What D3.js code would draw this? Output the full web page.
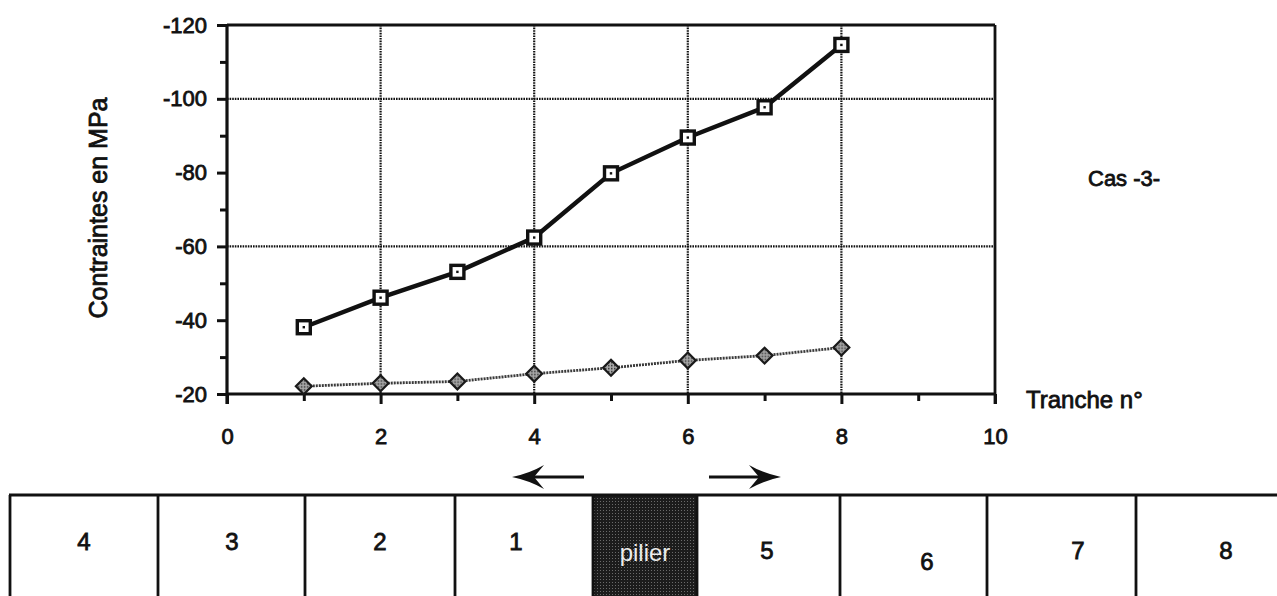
<!DOCTYPE html>
<html>
<head>
<meta charset="utf-8">
<script src="https://cdn.jsdelivr.net/npm/d3@7"></script>
<style>
  html, body { margin: 0; padding: 0; background: #fff; }
  svg { display: block; }
  text { font-family: "Liberation Sans", Arial, Helvetica, sans-serif; }
</style>
</head>
<body>
<svg id="chart" width="1277" height="596"></svg>
<script>
// Slice numbers (x) and stresses in MPa for the two curves
const tranches = [1, 2, 3, 4, 5, 6, 7, 8];
const contrainteMax = [-38.1, -46.1, -53.1, -62.4, -79.8, -89.5, -97.7, -114.6];
const contrainteMin = [-22.1, -22.9, -23.4, -25.5, -27.1, -29.1, -30.4, -32.6];

// Axis ticks
const xTicks = [0, 2, 4, 6, 8, 10];
const xMinorTicks = [1, 3, 5, 7, 9];
const yTicks = [-120, -100, -80, -60, -40, -20];
const yMinorTicks = [-110, -90, -70, -50, -30];
const xGrid = [2, 4, 6, 8];
const yGrid = [-100, -60];

// Slice strip under the chart: labels from left to right
const cellLabels = ["4", "3", "2", "1", "pilier", "5", "6", "7", "8"];
const cellEdges = [10, 158, 305, 455, 593, 697, 840, 987, 1136, 1277];
const cellLabelX = [84, 232, 380, 516, 645, 767, 927, 1078, 1226];
const cellLabelY = [542, 542, 542, 542, 553, 551, 562, 551, 551];

const svg = d3.select("#chart");

const x = d3.scaleLinear().domain([0, 10]).range([227, 995]);
const y = d3.scaleLinear().domain([-20, -120]).range([394, 25]);

const ink = "#111";

// Grid lines (dotted)
const grid = svg.append("g").attr("stroke", ink).attr("stroke-width", 2.2)
  .attr("stroke-dasharray", "1.6,1");
grid.selectAll(".gx").data(xGrid).join("line")
  .attr("x1", d => x(d)).attr("x2", d => x(d)).attr("y1", y(-120)).attr("y2", y(-20));
grid.selectAll(".gy").data(yGrid).join("line")
  .attr("x1", x(0)).attr("x2", x(10)).attr("y1", d => y(d)).attr("y2", d => y(d));

// Frame: top and right
svg.append("line").attr("x1", x(0)).attr("x2", x(10)).attr("y1", y(-120)).attr("y2", y(-120))
  .attr("stroke", ink).attr("stroke-width", 2.8);
svg.append("line").attr("x1", x(10)).attr("x2", x(10)).attr("y1", y(-120)).attr("y2", y(-20) + 10)
  .attr("stroke", ink).attr("stroke-width", 2.8);

// Axes
const axisFont = 22;
const fmt = d => String(d);
const yAxis = svg.append("g").attr("transform", `translate(${x(0)},0)`)
  .call(d3.axisLeft(y).tickValues(yTicks).tickSize(10).tickPadding(10).tickFormat(fmt));
const yMinor = svg.append("g").attr("transform", `translate(${x(0)},0)`)
  .call(d3.axisLeft(y).tickValues(yMinorTicks).tickSize(7).tickFormat(""));
const xAxis = svg.append("g").attr("transform", `translate(0,${y(-20)})`)
  .call(d3.axisBottom(x).tickValues(xTicks).tickSize(10).tickPadding(24).tickFormat(fmt));
const xMinor = svg.append("g").attr("transform", `translate(0,${y(-20)})`)
  .call(d3.axisBottom(x).tickValues(xMinorTicks).tickSize(7).tickFormat(""));

const heavy = sel => sel.style("fill", ink).style("stroke", ink).style("stroke-width", 0.8);

[yAxis, yMinor, xAxis, xMinor].forEach(g => {
  g.select(".domain").attr("stroke", ink).attr("stroke-width", 3.2);
  g.selectAll(".tick line").attr("stroke", ink).attr("stroke-width", 3);
  g.selectAll(".tick text").attr("font-size", axisFont).call(heavy);
});
yMinor.select(".domain").remove();
xMinor.select(".domain").remove();
xAxis.select(".domain").attr("d", `M${x(0)},0H${x(10)}`);
yAxis.select(".domain").attr("d", `M0,${y(-120)}V${y(-20) + 10}`);

// Axis titles and case label
svg.append("text").attr("transform", `translate(107,208) rotate(-90)`)
  .attr("text-anchor", "middle").attr("font-size", 25).text("Contraintes en MPa").call(heavy);
svg.append("text").attr("x", 1026).attr("y", 408).attr("font-size", 24).text("Tranche n°").call(heavy);
svg.append("text").attr("x", 1088).attr("y", 186).attr("font-size", 22).text("Cas -3-").call(heavy);

// Lower curve: grey dotted line with diamond markers
const pts2 = tranches.map((t, i) => [t, contrainteMin[i]]);
const pts1 = tranches.map((t, i) => [t, contrainteMax[i]]);
const line = d3.line().x(d => x(d[0])).y(d => y(d[1]));

const defs = svg.append("defs");
const pat = defs.append("pattern").attr("id", "hatch").attr("width", 3).attr("height", 3)
  .attr("patternUnits", "userSpaceOnUse");
pat.append("rect").attr("width", 3).attr("height", 3).attr("fill", "#aaa");
pat.append("rect").attr("width", 1.5).attr("height", 1.5).attr("fill", "#333");
const pat2 = defs.append("pattern").attr("id", "stipple").attr("width", 3).attr("height", 3)
  .attr("patternUnits", "userSpaceOnUse");
pat2.append("rect").attr("width", 3).attr("height", 3).attr("fill", "#1c1c1c");
pat2.append("rect").attr("width", 1).attr("height", 1).attr("fill", "#6a6a6a");

svg.append("path").datum(pts2).attr("d", line).attr("fill", "none")
  .attr("stroke", "#3a3a3a").attr("stroke-width", 2.8).attr("stroke-dasharray", "2,1");
svg.selectAll(".diamond").data(pts2).join("path")
  .attr("transform", d => `translate(${x(d[0])},${y(d[1])})`)
  .attr("d", d3.symbol(d3.symbolDiamond2, 160)())
  .attr("fill", "url(#hatch)").attr("stroke", "#1a1a1a").attr("stroke-width", 2.2);

// Upper curve: heavy black line with open square markers
svg.append("path").datum(pts1).attr("d", line).attr("fill", "none")
  .attr("stroke", ink).attr("stroke-width", 4.4);
const sq = svg.selectAll(".sq").data(pts1).join("g")
  .attr("transform", d => `translate(${x(d[0])},${y(d[1])})`);
sq.append("rect").attr("x", -6.5).attr("y", -6.5).attr("width", 13).attr("height", 13)
  .attr("fill", "#fff").attr("stroke", ink).attr("stroke-width", 3.4);
sq.append("rect").attr("x", -1.2).attr("y", -1.2).attr("width", 2.4).attr("height", 2.4).attr("fill", ink);

// Direction arrows above the strip
function arrow(x0, x1, yy) {
  const dir = Math.sign(x1 - x0);
  const L = 32, H = 12, notch = 10;
  svg.append("line").attr("x1", x0).attr("x2", x1 - dir * (L - notch)).attr("y1", yy).attr("y2", yy)
    .attr("stroke", ink).attr("stroke-width", 2.8);
  svg.append("path").attr("fill", ink)
    .attr("d", `M${x1},${yy} Q${x1 - dir * L * 0.55},${yy - H * 0.3} ${x1 - dir * L},${yy - H} L${x1 - dir * (L - notch)},${yy} L${x1 - dir * L},${yy + H} Q${x1 - dir * L * 0.55},${yy + H * 0.3} ${x1},${yy} Z`);
}
arrow(584, 512, 477);
arrow(709, 781, 477);

// Slice strip
const strip = svg.append("g");
strip.append("rect").attr("x", cellEdges[4]).attr("y", 495)
  .attr("width", cellEdges[5] - cellEdges[4]).attr("height", 101).attr("fill", "url(#stipple)");
strip.append("line").attr("x1", cellEdges[0] - 1).attr("x2", 1277).attr("y1", 495).attr("y2", 495)
  .attr("stroke", ink).attr("stroke-width", 3);
strip.selectAll(".edge").data(cellEdges.slice(0, -1)).join("line")
  .attr("x1", d => d).attr("x2", d => d).attr("y1", 495).attr("y2", 596)
  .attr("stroke", ink).attr("stroke-width", 2.8);
strip.selectAll(".lbl").data(cellLabels).join("text")
  .attr("x", (d, i) => cellLabelX[i])
  .attr("y", (d, i) => cellLabelY[i]).attr("dy", "0.35em")
  .attr("text-anchor", "middle").attr("font-size", 24)
  .style("fill", (d, i) => i === 4 ? "#ececec" : ink)
  .style("stroke", (d, i) => i === 4 ? "none" : ink).style("stroke-width", 0.8)
  .text(d => d);
</script>
</body>
</html>
